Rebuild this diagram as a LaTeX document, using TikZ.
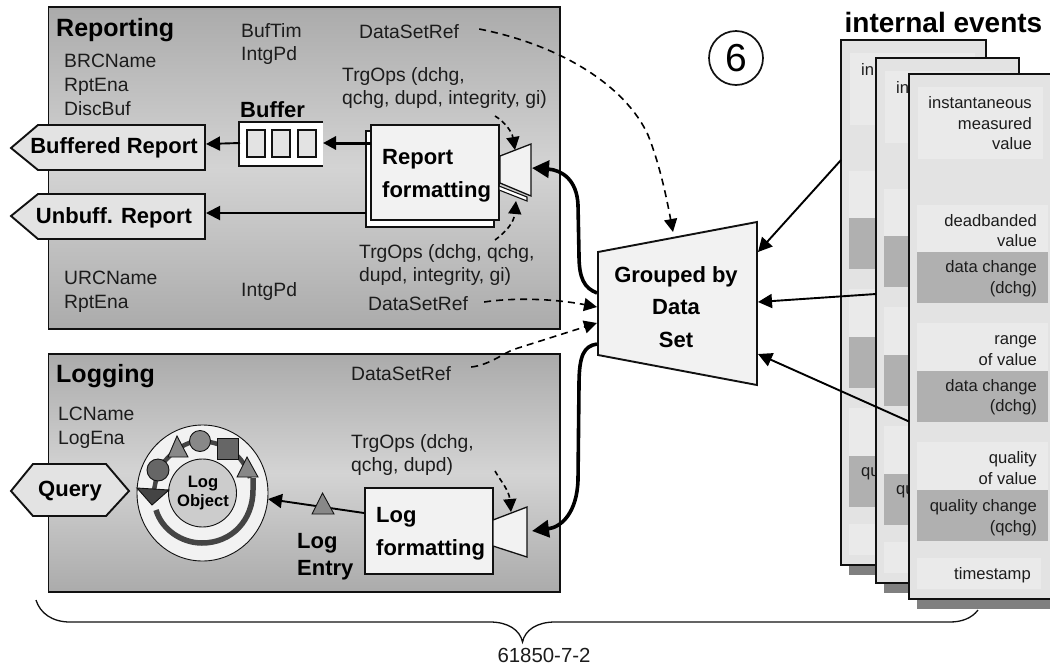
\documentclass[tikz,border=0pt]{standalone}
\usepackage{fontspec}
\setmainfont{Liberation Sans}
\usetikzlibrary{arrows.meta}
\definecolor{ink}{HTML}{111111}
\definecolor{txt}{HTML}{1C1C1C}
\definecolor{panel}{HTML}{F2F2F2}
\definecolor{cardc}{HTML}{E3E3E3}
\definecolor{lightc}{HTML}{EAEAEA}
\definecolor{darkc}{HTML}{B0B0B0}
\definecolor{shadowc}{HTML}{808080}
\definecolor{midg}{HTML}{888888}
\definecolor{darkg}{HTML}{666666}
\definecolor{deepg}{HTML}{444444}
\newcommand{\regfont}{\fontsize{19.3}{23.8}\selectfont}
\newcommand{\boldfont}{\fontsize{22}{33}\selectfont\bfseries}
\newcommand{\titlefont}{\fontsize{25}{30}\selectfont\bfseries}
\newcommand{\cardfont}{\fontsize{16.6}{20.5}\selectfont}
\tikzset{
  lbl/.style={inner sep=0pt,anchor=west,align=left,text=txt,font=\regfont},
  blbl/.style={inner sep=0pt,anchor=west,align=left,text=black,font=\boldfont},
  tlbl/.style={inner sep=0pt,anchor=west,text=black,font=\titlefont},
  cardtxt/.style={inner sep=0pt,anchor=east,align=right,text=txt,font=\cardfont},
  groupbox/.style={draw=ink,line width=1.9pt},
  edge/.style={draw=ink,line width=1.7pt},
  flow/.style={draw=black,line width=1.9pt,-{Triangle[length=14pt,width=14pt]}},
  thickflow/.style={draw=black,line width=3.6pt,-{Triangle[length=17pt,width=17pt]}},
  medflow/.style={draw=black,line width=3pt,-{Triangle[length=13pt,width=13pt]}},
  dashflow/.style={draw=black,line width=1.6pt,dash pattern=on 7pt off 5pt,-{Triangle[length=13pt,width=13pt]}},
  shortdash/.style={dashflow,dash pattern=on 5pt off 3.5pt},
  shapeedge/.style={draw=ink,line width=.9pt},
}
\newcommand{\cardrects}{%
  \fill[lightc] (918,87) rectangle (1043,159);
  \fill[lightc] (917,205) rectangle (1048,252);
  \fill[darkc]  (917,252) rectangle (1048,303);
  \fill[lightc] (917,323) rectangle (1048,371);
  \fill[darkc]  (917,371) rectangle (1048,422);
  \fill[lightc] (917,442) rectangle (1048,490);
  \fill[darkc]  (917,490) rectangle (1048,541);
  \fill[lightc] (917,558) rectangle (1041,589);
}
\begin{document}
\begin{tikzpicture}[x=1pt,y=-1pt]
\useasboundingbox (0,0) rectangle (1050,670);
\clip (0,0) rectangle (1050,670);
\fill[white] (0,0) rectangle (1050,670);

% Brace
\coordinate (bl) at (36,600);
\coordinate (br) at (978,610);
\coordinate (bt) at (522.5,642);
\draw[ink,line width=1.3pt] (bl) .. controls (40,613) and (52,622) .. (70,622) -- (490,622)
  .. controls (508,622) and (520,630) .. (bt) .. controls (525,630) and (537,622) .. (555,622)
  -- (950,622) .. controls (962,622) and (972,618) .. (br);
\node[inner sep=0pt,font=\fontsize{20.4}{24}\selectfont,text=txt] (code) at (544,655) {61850-7-2};

% Reporting group
\draw[groupbox,top color=black!33,bottom color=black!33,middle color=black!17] (48.5,7) rectangle (560,329);
\node[tlbl] (rep) at (56,30) {Reporting};
\node[lbl] (brc) at (64,85) {BRCName\\RptEna\\DiscBuf};
\node[lbl] (buf1) at (241,44) {BufTim\\IntgPd};
\node[lbl] (dsr1) at (359,32) {DataSetRef};
\node[lbl] (trg1) at (342,88) {TrgOps (dchg,\\qchg, dupd, integrity, gi)};
\node[blbl] (bufl) at (240,110) {Buffer};
\node[lbl] (trg2) at (359,265) {TrgOps (dchg, qchg,\\dupd, integrity, gi)};
\node[lbl] (urc) at (64,292) {URCName\\RptEna};
\node[lbl] (intg) at (241,292) {IntgPd};
\node[lbl] (dsr2) at (368,304) {DataSetRef};

% Report outputs
\draw[edge,line width=1.9pt,fill=cardc] (11,148) -- (38,125) -- (205,125) -- (205,170) -- (38,170) -- cycle;
\node[inner sep=0pt,font=\boldfont] (brep) at (114,148) {Buffered Report};
\coordinate (brepe) at (206,144);
\draw[edge,line width=1.9pt,fill=cardc] (11,216) -- (38,194) -- (205,194) -- (205,239) -- (38,239) -- cycle;
\node[inner sep=0pt,font=\boldfont] (urep) at (114,218) {Unbuff. Report};
\coordinate (urepe) at (206,213);

% Buffer
\fill[white] (239,122) rectangle (323,166);
\draw[edge] (323,122) -- (239,122) -- (239,166) -- (323,166);
\foreach \xa in {247,272,298}{
  \draw[edge,fill=cardc] (\xa,130) rectangle (\xa+18,157);
}
\coordinate (bufr) at (323,143);
\coordinate (bufl2) at (240,143);

% Report formatting
\draw[edge,fill=white] (366,131) rectangle (494,227);
\draw[edge,fill=panel] (371,125) rectangle (499,220);
\node[blbl] (rf) at (382,176) {Report\\formatting};
\draw[shapeedge,line width=1.1pt,fill=white] (499,186) -- (527,197) -- (527,201) -- (499,190) -- cycle;
\draw[edge,line width=1.3pt,fill=panel] (500,156) -- (531,144) -- (531,196) -- (500,183) -- cycle;
\coordinate (rfl) at (371,143);
\coordinate (rfl2) at (366,213);
\coordinate (rtr) at (532,168);
\coordinate (rtt) at (515,150);
\coordinate (rtb) at (516,201);
\coordinate (t1s) at (495,116);
\coordinate (t2s) at (495,240);

% Logging group
\draw[groupbox,top color=black!33,bottom color=black!33,middle color=black!17] (48.5,354) rectangle (560,592);
\node[tlbl] (logt) at (56,376) {Logging};
\node[lbl] (lc) at (58,428) {LCName\\LogEna};
\node[lbl] (dsr3) at (351,374) {DataSetRef};
\node[lbl] (trg3) at (351,455) {TrgOps (dchg,\\qchg, dupd)};

% Query
\draw[edge,line width=1.9pt,fill=cardc] (11,491) -- (33,464) -- (106,464) -- (129,491) -- (106,516) -- (33,516) -- cycle;
\node[inner sep=0pt,font=\boldfont] (query) at (70,491) {Query};

% Log object
\draw[shapeedge,fill=panel] (202.5,493) ellipse [x radius=65.5,y radius=68];
\draw[shapeedge,fill=black!20] (202.5,493) circle [radius=34];
\node[inner sep=0pt,align=center,font=\fontsize{16.6}{19.5}\selectfont\bfseries] (lo) at (203,493) {Log\\Object};
\coordinate (loe) at (268,499);
\draw[deepg,line width=5.5pt] (156,510) .. controls (162,530) and (182,543) .. (202,543)
  .. controls (232,543) and (253,520) .. (253,490) -- (253,478);
\draw[deepg,line width=4.5pt] (250,478) .. controls (244,456) and (226,442) .. (200,441)
  .. controls (184,441) and (168,455) .. (158,470) -- (154,490);
\draw[shapeedge,fill=darkg] (217,438) rectangle (238,459);
\draw[shapeedge,fill=midg] (200,441) circle [radius=10.5];
\draw[shapeedge,fill=midg] (177,436) -- (168,457) -- (188,457) -- cycle;
\draw[shapeedge,fill=darkg] (158,470) circle [radius=11];
\draw[shapeedge,fill=midg] (247,457) -- (237,477) -- (258,477) -- cycle;
\draw[shapeedge,fill=deepg] (137,488) -- (169,490) -- (152,505) -- cycle;

% Log formatting
\draw[edge,fill=panel] (365,488) rectangle (493,574);
\node[blbl] (lf) at (376,534) {Log\\formatting};
\draw[edge,line width=1.3pt,fill=panel] (493,520) -- (527,507) -- (527,557) -- (493,546) -- cycle;
\coordinate (lfl) at (364,513);
\coordinate (ltr) at (532,531);
\coordinate (ltt) at (511,512);
\coordinate (t3s) at (495,471);
\node[blbl,font=\fontsize{22}{27}\selectfont\bfseries] (le) at (297,556.5) {Log\\Entry};

% Log entry arrow and marker
\draw[flow] (lfl) -- (loe);
\draw[shapeedge,fill=midg] (322.5,493) -- (312,514) -- (334,514) -- cycle;

% Flows in reporting
\draw[flow] (bufl2) -- (brepe);
\draw[flow] (rfl2) -- (urepe);
\draw[medflow] (rfl) -- (bufr);

% Short trigger arrows
\draw[shortdash] (t1s) .. controls (505,122) and (512,132) .. (rtt);
\draw[shortdash] (t2s) .. controls (507,231) and (514,222) .. (rtb);
\draw[shortdash] (t3s) .. controls (500,480) and (509,490) .. (ltt);

% Cards
\begin{scope}[shift={(-68,-34)}]
  \fill[shadowc] (917,100) rectangle (1063.5,609);
  \draw[edge,fill=cardc] (909,74) rectangle (1054,599);
  \cardrects
  \node[cardtxt,anchor=west] (c1a) at (929,103) {in};
  \node[cardtxt,anchor=west] (c1b) at (929,508) {qu};
\end{scope}
\begin{scope}[shift={(-33,-16)}]
  \fill[shadowc] (917,100) rectangle (1061,609);
  \draw[edge,fill=cardc] (909,74) rectangle (1052,599);
  \cardrects
  \node[cardtxt,anchor=west] (c2a) at (929,103) {in};
  \node[cardtxt,anchor=west] (c2b) at (929,508) {qu};
\end{scope}
\fill[shadowc] (917,100) rectangle (1070,609);
\draw[edge,fill=cardc] (909,74) rectangle (1070,599);
\cardrects
\node[cardtxt] (v1) at (1032,123.5) {instantaneous\\measured\\value};
\node[cardtxt] (v2) at (1037,230.5) {deadbanded\\value};
\node[cardtxt] (v3) at (1037,278.5) {data change\\(dchg)};
\node[cardtxt] (v4) at (1037,350.5) {range\\of value};
\node[cardtxt] (v5) at (1037,397) {data change\\(dchg)};
\node[cardtxt] (v6) at (1037,468) {quality\\of value};
\node[cardtxt] (v7) at (1037,517.5) {quality change\\(qchg)};
\node[inner sep=0pt,text=txt,font=\cardfont] (v8) at (992.5,575) {timestamp};
\node[inner sep=0pt,font=\fontsize{28}{32}\selectfont\bfseries] (ie) at (943.5,22) {internal events};

% Grouped by data set
\draw[edge,line width=1.9pt,fill=panel] (598,252) -- (757,222) -- (757,385) -- (598,355) -- cycle;
\node[inner sep=0pt,align=center,font=\fontsize{22}{32.5}\selectfont\bfseries] (gbd) at (676,307) {Grouped by\\Data\\Set};
\coordinate (gtr) at (758,252);
\coordinate (gmr) at (758,302);
\coordinate (gbr) at (758,354);
\coordinate (gta) at (673,232);
\coordinate (gl1) at (597,307);
\coordinate (gl2) at (597,323);
\coordinate (gs1) at (597,293);
\coordinate (gs2) at (597,344);
\coordinate (c1e) at (841,160);
\coordinate (c2e) at (876,294);
\coordinate (c3e) at (909,421.5);

% Event arrows
\draw[flow] (c1e) -- (gtr);
\draw[flow] (c2e) -- (gmr);
\draw[flow] (c3e) -- (gbr);

% Thick group arrows
\draw[thickflow] (gs1) .. controls (584,288) and (579,278) .. (579,255) -- (578,205)
  .. controls (577,180) and (562,170) .. (rtr);
\draw[thickflow] (gs2) .. controls (584,346) and (579,355) .. (579,385) -- (578,480)
  .. controls (577,512) and (562,527) .. (ltr);

% Long dashed refs
\draw[dashflow] ([xshift=20pt,yshift=3pt]dsr1.east) .. controls (560,45) and (625,85) .. (648,135) .. controls (660,165) and (667,200) .. (gta);
\draw[dashflow] ([xshift=16pt,yshift=2pt]dsr2.east) .. controls (510,298) and (550,298) .. (gl1);
\draw[dashflow] ([xshift=20pt,yshift=7pt]dsr3.east) .. controls (490,365) and (505,352) .. (515,349) -- (gl2);

% Circled 6
\node[draw=ink,line width=1.7pt,circle,minimum size=54pt,inner sep=0pt,font=\fontsize{39}{42}\selectfont] (six) at (736,58) {6};
\end{tikzpicture}
\end{document}
